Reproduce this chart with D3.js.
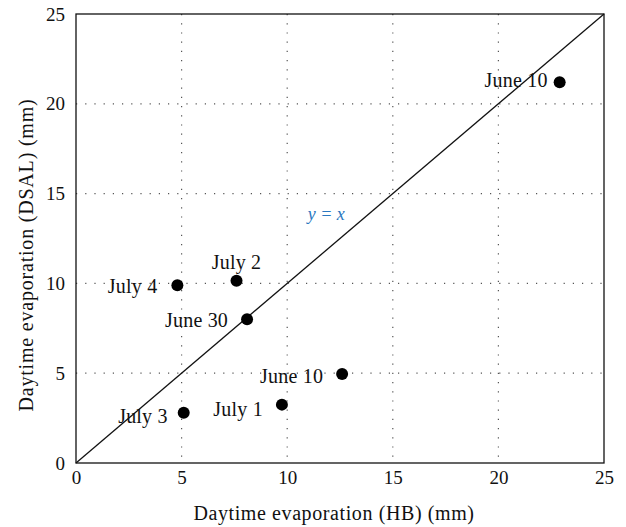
<!DOCTYPE html>
<html lang="en">
<head>
  <meta charset="UTF-8">
  <title>Daytime evaporation HB vs DSAL</title>
  <script src="https://d3js.org/d3.v7.min.js"></script>
  <style>
    body { margin: 0; background: #fff; }
    text { font-family: "Liberation Serif", "DejaVu Serif", serif; fill: #111; }
    .grid line { stroke: #555; stroke-width: 1.2; stroke-dasharray: 1.2,8; }
  </style>
</head>
<body>
<svg id="chart"></svg>
<script>
  // data
  var dates = ["June 10", "July 2", "July 4", "June 30", "June 10", "July 1", "July 3"];
  var hb    = [22.9, 7.6, 4.8, 8.1, 12.6, 9.75, 5.1];
  var dsal  = [21.2, 10.15, 9.9, 8.0, 4.95, 3.25, 2.8];
  var ticks = [0, 5, 10, 15, 20, 25];

  // label offsets from each dot (pixels), and anchor
  var labelPos = [
    { dx: -12, dy: 5, anchor: "end" },
    { dx: 0, dy: -12, anchor: "middle" },
    { dx: -20, dy: 8, anchor: "end" },
    { dx: -19, dy: 8, anchor: "end" },
    { dx: -19, dy: 9, anchor: "end" },
    { dx: -19, dy: 11, anchor: "end" },
    { dx: -16, dy: 10, anchor: "end" }
  ];

  var svgWidth = 626, svgHeight = 527;
  var margin = { top: 14, right: 22, bottom: 64, left: 76 };
  var width = svgWidth - margin.left - margin.right;
  var height = svgHeight - margin.top - margin.bottom;

  var svg = d3.select("#chart")
      .attr("width", svgWidth)
      .attr("height", svgHeight)
      .append("g")
      .attr("transform", "translate(" + margin.left + "," + margin.top + ")");

  var x = d3.scaleLinear().domain([0, 25]).range([0, width]);
  var y = d3.scaleLinear().domain([0, 25]).range([height, 0]);

  // dotted grid
  var grid = svg.append("g").attr("class", "grid");
  grid.selectAll(".gx")
      .data(ticks.slice(1, -1))
      .enter().append("line")
      .attr("x1", function(d) { return x(d); })
      .attr("x2", function(d) { return x(d); })
      .attr("y1", 0).attr("y2", height);
  grid.selectAll(".gy")
      .data(ticks.slice(1, -1))
      .enter().append("line")
      .attr("y1", function(d) { return y(d); })
      .attr("y2", function(d) { return y(d); })
      .attr("x1", 0).attr("x2", width);

  // axes
  var xAxis = svg.append("g")
      .attr("transform", "translate(0," + height + ")")
      .call(d3.axisBottom(x).tickValues(ticks).tickSize(0).tickPadding(8));
  var yAxis = svg.append("g")
      .call(d3.axisLeft(y).tickValues(ticks).tickSize(0).tickPadding(11));
  [xAxis, yAxis].forEach(function(a) {
    a.select(".domain").remove();
    a.selectAll("text").attr("font-size", "19px")
        .attr("font-family", "Liberation Serif, serif").attr("fill", "#111");
  });

  // frame
  svg.append("rect")
      .attr("width", width).attr("height", height)
      .attr("fill", "none").attr("stroke", "#111").attr("stroke-width", 1.3);

  // y = x line
  svg.append("line")
      .attr("x1", x(0)).attr("y1", y(0))
      .attr("x2", x(25)).attr("y2", y(25))
      .attr("stroke", "#111").attr("stroke-width", 1.3);

  svg.append("text")
      .attr("x", x(11.85)).attr("y", y(13.55))
      .attr("text-anchor", "middle")
      .attr("font-size", "18px")
      .attr("font-style", "italic")
      .style("fill", "#2a78c0")
      .text("y = x");

  // points
  svg.selectAll(".dot")
      .data(dates)
      .enter().append("circle")
      .attr("cx", function(d, i) { return x(hb[i]); })
      .attr("cy", function(d, i) { return y(dsal[i]); })
      .attr("r", 6)
      .attr("fill", "#000");

  svg.selectAll(".lbl")
      .data(dates)
      .enter().append("text")
      .attr("x", function(d, i) { return x(hb[i]) + labelPos[i].dx; })
      .attr("y", function(d, i) { return y(dsal[i]) + labelPos[i].dy; })
      .attr("text-anchor", function(d, i) { return labelPos[i].anchor; })
      .attr("font-size", "20px")
      .style("letter-spacing", "0.2px")
      .text(function(d) { return d; });

  // axis titles
  svg.append("text")
      .attr("x", 258).attr("y", height + 57)
      .attr("text-anchor", "middle")
      .attr("font-size", "20px")
      .style("letter-spacing", "0.6px")
      .text("Daytime evaporation (HB) (mm)");

  svg.append("text")
      .attr("transform", "translate(-43,241) rotate(-90)")
      .attr("text-anchor", "middle")
      .attr("font-size", "20px")
      .style("letter-spacing", "0.8px")
      .text("Daytime evaporation (DSAL) (mm)");
</script>
</body>
</html>
